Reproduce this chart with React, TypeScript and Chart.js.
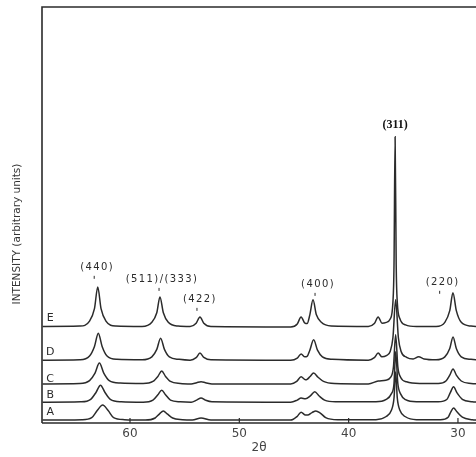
import React, { useEffect, useRef } from "react";
import { Chart, registerables } from "chart.js";
Chart.register(...registerables);

// 2θ (deg), intensity (arbitrary units, stacked traces)
const traceA: [number, number][] = [
  [68.0, 0.7], [64.4, 0.8], [63.5, 1.3], [63.0, 3.0], [62.5, 4.3], [62.0, 3.0], [61.5, 1.3], [60.5, 0.8],
  [58.6, 0.7], [57.7, 1.2], [57.3, 2.2], [56.95, 2.9], [56.6, 2.2], [56.1, 1.2], [55.2, 0.8],
  [54.3, 0.7], [53.5, 1.2], [52.6, 0.7],
  [45.3, 0.7], [44.7, 1.6], [44.35, 2.6], [43.95, 1.9], [43.75, 1.9], [43.35, 2.5], [43.0, 2.9], [42.6, 2.4], [42.1, 1.3], [41.0, 0.8],
  [37.5, 0.8], [36.6, 1.5], [36.1, 3.0], [35.85, 6.0], [35.7, 12.3], [35.55, 6.0], [35.3, 3.0], [34.8, 1.5], [33.8, 0.8],
  [31.6, 0.8], [30.9, 1.4], [30.65, 2.7], [30.4, 3.6], [30.1, 2.7], [29.6, 1.4], [28.7, 0.8], [28.0, 0.7],
];
const traceB: [number, number][] = [
  [68.0, 5.0], [64.5, 5.1], [63.6, 5.7], [63.1, 7.4], [62.7, 9.1], [62.3, 7.4], [61.8, 5.7], [60.8, 5.1],
  [58.8, 5.0], [57.9, 5.5], [57.45, 6.8], [57.1, 7.9], [56.75, 6.8], [56.3, 5.5], [55.4, 5.1],
  [54.4, 5.0], [53.9, 5.5], [53.5, 6.0], [53.1, 5.5], [52.5, 5.1],
  [45.3, 5.0], [44.7, 5.5], [44.35, 6.0], [43.95, 5.8], [43.5, 6.5], [43.1, 7.5], [42.7, 6.5], [42.2, 5.5], [41.2, 5.1],
  [37.5, 5.1], [36.6, 5.6], [36.1, 7.0], [35.85, 9.5], [35.7, 17.1], [35.5, 9.5], [35.25, 7.0], [34.8, 5.6], [33.8, 5.1],
  [31.8, 5.1], [31.0, 5.7], [30.7, 7.3], [30.4, 8.7], [30.1, 7.3], [29.6, 5.7], [28.7, 5.1], [28.0, 5.0],
];
const traceC: [number, number][] = [
  [68.0, 9.4], [64.6, 9.5], [63.7, 10.2], [63.2, 12.0], [62.8, 14.4], [62.4, 12.0], [61.9, 10.2], [60.9, 9.6],
  [58.8, 9.5], [57.9, 10.0], [57.45, 11.2], [57.1, 12.5], [56.75, 11.2], [56.3, 10.0], [55.4, 9.5],
  [54.4, 9.4], [53.9, 9.7], [53.5, 9.9], [53.1, 9.7], [52.5, 9.4],
  [45.3, 9.4], [44.75, 10.0], [44.35, 11.1], [43.95, 10.4], [43.8, 10.5], [43.55, 11.1], [43.2, 12.0], [42.8, 11.0], [42.3, 10.0], [41.3, 9.5],
  [38.2, 9.4], [37.3, 10.1], [36.6, 10.3], [36.15, 11.0], [35.9, 13.5], [35.7, 21.2], [35.5, 13.5], [35.25, 11.0], [34.7, 9.9], [33.5, 9.5],
  [31.8, 9.5], [31.1, 10.1], [30.75, 11.5], [30.45, 13.0], [30.15, 11.5], [29.7, 10.1], [28.8, 9.5], [28.0, 9.4],
];
const traceD: [number, number][] = [
  [68.0, 15.1], [64.6, 15.2], [63.7, 16.1], [63.25, 18.4], [62.9, 21.6], [62.55, 18.4], [62.1, 16.1], [61.2, 15.3],
  [58.9, 15.2], [58.0, 15.9], [57.55, 17.7], [57.2, 20.4], [56.85, 17.7], [56.4, 15.9], [55.5, 15.3],
  [54.5, 15.1], [53.95, 15.7], [53.6, 16.8], [53.25, 15.8], [52.6, 15.2],
  [45.3, 15.1], [44.7, 15.6], [44.35, 16.6], [44.0, 15.9], [43.8, 16.0], [43.55, 17.5], [43.2, 20.0], [42.85, 17.5], [42.4, 15.9], [41.5, 15.3],
  [38.2, 15.1], [37.65, 15.7], [37.3, 16.8], [36.95, 15.9], [36.55, 16.2], [36.2, 17.2], [35.95, 20.5], [35.7, 29.6], [35.45, 20.5], [35.2, 17.2], [34.7, 15.8],
  [34.1, 15.4], [33.6, 15.9], [33.1, 15.4], [32.0, 15.2],
  [31.2, 15.9], [30.75, 17.9], [30.45, 20.7], [30.15, 17.9], [29.7, 15.9], [28.8, 15.3], [28.0, 15.2],
];
const traceE: [number, number][] = [
  [68.0, 23.2], [64.6, 23.3], [63.7, 24.5], [63.25, 27.5], [62.95, 32.7], [62.65, 27.5], [62.2, 24.5], [61.3, 23.3],
  [58.9, 23.2], [58.0, 24.2], [57.55, 26.5], [57.26, 30.3], [56.95, 26.5], [56.5, 24.2], [55.6, 23.3],
  [54.5, 23.2], [53.95, 24.0], [53.6, 25.5], [53.25, 24.0], [52.6, 23.2],
  [45.3, 23.1], [44.7, 23.8], [44.35, 25.5], [44.0, 24.0], [43.8, 23.9], [43.55, 26.0], [43.26, 29.6], [42.95, 26.0], [42.5, 24.2], [41.6, 23.3],
  [38.2, 23.2], [37.65, 23.9], [37.3, 25.5], [36.95, 24.0], [36.55, 24.2], [36.2, 25.0], [35.95, 29.0], [35.85, 38.0], [35.75, 68.8], [35.65, 38.0], [35.55, 29.0], [35.3, 25.0], [34.8, 23.6], [33.8, 23.2],
  [32.0, 23.2], [31.2, 24.2], [30.75, 27.0], [30.46, 31.3], [30.15, 27.0], [29.7, 24.2], [28.8, 23.3], [28.0, 23.2],
];
const traces = [traceA, traceB, traceC, traceD, traceE];
const traceNames = ["A", "B", "C", "D", "E"];
const traceNameY = [2.6, 6.7, 10.6, 17.1, 25.2];
const traceNameX = 67.3;

const xTicks = [60, 50, 40, 30];
const xMin = 28.35;
const xMax = 68.05;

const hklLabels = ["(440)", "(511)/(333)", "(422)", "(400)", "(220)"];
const hklX = [63.0, 57.07, 53.6, 42.8, 31.4];
const hklY = [37.3, 34.4, 29.6, 33.2, 33.7];
const mainLabel = "(311)";
const mainLabelX = 35.75;
const mainLabelY = 71.6;

const xTitle = "2θ";
const yTitle = "INTENSITY (arbitrary units)";

const ink = "#2b2b2b";

const decor = {
  id: "decor",
  afterDatasetsDraw(chart: any) {
    const { ctx, chartArea, scales } = chart;
    const xs = scales.x;
    const ys = scales.y;
    ctx.save();
    ctx.strokeStyle = ink;
    ctx.lineWidth = 1.6;
    ctx.beginPath();
    ctx.moveTo(chartArea.left, chartArea.bottom);
    ctx.lineTo(chartArea.left, chartArea.top);
    ctx.lineTo(chartArea.right, chartArea.top);
    ctx.moveTo(chartArea.left, chartArea.bottom);
    ctx.lineTo(chartArea.right, chartArea.bottom);
    ctx.stroke();
    ctx.lineWidth = 1.2;
    ctx.beginPath();
    xTicks.forEach((v) => {
      const px = xs.getPixelForValue(v);
      ctx.moveTo(px, chartArea.bottom);
      ctx.lineTo(px, chartArea.bottom - 5);
    });
    ctx.stroke();

    ctx.fillStyle = ink;
    ctx.textAlign = "center";
    ctx.textBaseline = "middle";
    // trace names
    ctx.font = "11px 'DejaVu Sans'";
    traceNames.forEach((n, i) => {
      ctx.fillText(n, xs.getPixelForValue(traceNameX), ys.getPixelForValue(traceNameY[i]));
    });
    // hkl labels
    ctx.font = "10px 'DejaVu Sans'";
    (ctx as any).letterSpacing = "1.4px";
    hklLabels.forEach((t, i) => {
      const px = xs.getPixelForValue(hklX[i]);
      const py = ys.getPixelForValue(hklY[i]);
      ctx.fillText(t, px, py);
      ctx.beginPath();
      ctx.lineWidth = 1;
      ctx.moveTo(px - 3, py + 8);
      ctx.lineTo(px - 3, py + 11);
      ctx.stroke();
    });
    (ctx as any).letterSpacing = "0px";
    ctx.font = "bold 12px 'Liberation Serif'";
    ctx.fillStyle = "#111";
    ctx.fillText(mainLabel, xs.getPixelForValue(mainLabelX), ys.getPixelForValue(mainLabelY));
    // y title
    ctx.save();
    ctx.fillStyle = "#333";
    ctx.font = "10.5px 'DejaVu Sans'";
    ctx.translate(17, 234);
    ctx.rotate(-Math.PI / 2);
    ctx.fillText(yTitle, 0, 0);
    ctx.restore();
    ctx.restore();
  },
};

export default function App() {
  const ref = useRef<HTMLCanvasElement>(null);
  useEffect(() => {
    const chart = new Chart(ref.current!, {
      type: "line",
      data: {
        datasets: traces.map((t, i) => ({
          label: traceNames[i],
          data: t.map(([x, y]) => ({ x, y })),
          borderColor: ink,
          borderWidth: 1.5,
          pointRadius: 0,
          fill: false,
          cubicInterpolationMode: "monotone" as const,
        })),
      },
      plugins: [decor],
      options: {
        responsive: false,
        animation: false,
        layout: { padding: { left: 42, top: 7, right: 0, bottom: 0 } },
        plugins: { legend: { display: false }, tooltip: { enabled: false } },
        scales: {
          x: {
            type: "linear",
            reverse: true,
            min: xMin,
            max: xMax,
            afterBuildTicks: (s: any) => {
              s.ticks = xTicks.map((v) => ({ value: v }));
            },
            afterFit: (s: any) => {
              s.height = 34;
            },
            grid: { display: false, drawTicks: false },
            border: { display: false },
            ticks: {
              padding: 4,
              color: "#444",
              font: { family: "'DejaVu Sans'", size: 12 },
              callback: (v: any) => String(v),
            },
            title: {
              display: true,
              text: xTitle,
              color: "#444",
              font: { family: "'DejaVu Sans'", size: 12 },
              padding: { top: 0, bottom: 2 },
            },
          },
          y: { type: "linear", display: false, min: 0, max: 100 },
        },
      },
    });
    return () => chart.destroy();
  }, []);
  return (
    <div style={{ position: "fixed", left: 0, top: 0, width: 476, height: 457, background: "#fff" }}>
      <canvas ref={ref} width={476} height={457} style={{ display: "block" }} />
    </div>
  );
}
